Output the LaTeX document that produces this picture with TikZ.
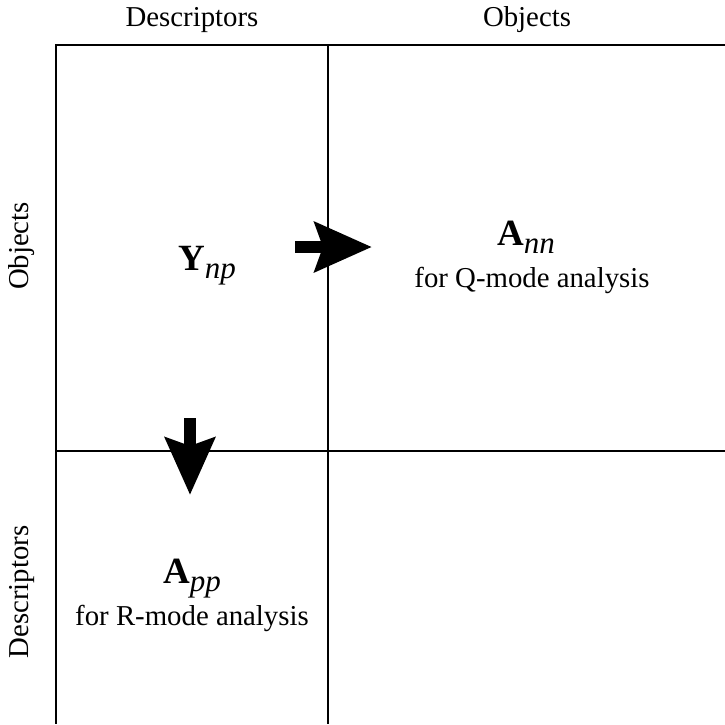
\documentclass[tikz,border=0pt]{standalone}
\usepackage{fontspec}
\setmainfont{Liberation Serif}
\usetikzlibrary{arrows.meta}
\tikzset{
  grid line/.style={line width=1.3pt, black},
  label text/.style={font=\fontsize{28.8}{34}\selectfont, inner sep=0pt},
  matrix name/.style={font=\fontsize{37}{42}\selectfont, inner sep=0pt, anchor=base},
  mode note/.style={font=\fontsize{28.8}{34}\selectfont, inner sep=0pt, anchor=base},
  fat arrow/.style={line width=12pt, -{Stealth[length=57pt, width=49pt, inset=8pt]}},
}
\newcommand{\matsym}[2]{\textbf{#1}\raisebox{-0.24em}{\fontsize{31}{34}\selectfont\itshape #2}}
\begin{document}
\begin{tikzpicture}[x=1pt, y=-1pt]
  \useasboundingbox (0,0) rectangle (725,724);
  % partition of the table
  \coordinate (tl) at (56,45);
  \coordinate (tm) at (328,45);
  \coordinate (tr) at (725,45);
  \coordinate (ml) at (56,451);
  \coordinate (mr) at (725,451);
  \coordinate (bl) at (56,724);
  \coordinate (bm) at (328,724);
  \draw[grid line] (tr) -- (tl) -- (bl);
  \draw[grid line] (tm) -- (bm);
  \draw[grid line] (ml) -- (mr);
  % column and row headings
  \node[label text] (cdesc) at (192,20) {Descriptors};
  \node[label text] (cobj) at (527,20) {Objects};
  \node[label text, rotate=90] (robj) at (22,246) {Objects};
  \node[label text, rotate=90] (rdesc) at (22,592) {Descriptors};
  % cell contents
  \node[matrix name] (ynp) at (207,270) {\matsym{Y}{np}};
  \node[matrix name] (ann) at (526,245) {\matsym{A}{nn}};
  \node[mode note] (qmode) at (532,287) {for Q-mode analysis};
  \node[matrix name] (app) at (192,583) {\matsym{A}{pp}};
  \node[mode note] (rmode) at (192,625) {for R-mode analysis};
  % transformation arrows
  \coordinate (ra) at (295,247);
  \coordinate (rb) at (372,247);
  \coordinate (da) at (190,418);
  \coordinate (db) at (190,495);
  \draw[fat arrow] (ra) -- (rb);
  \draw[fat arrow] (da) -- (db);
\end{tikzpicture}
\end{document}
